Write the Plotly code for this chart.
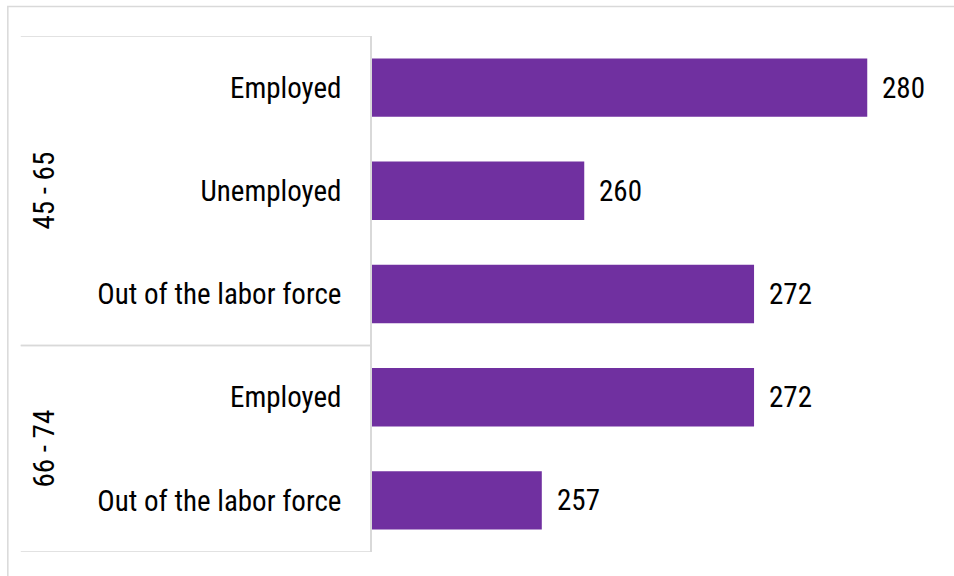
import plotly.graph_objects as go

groups = ["45 - 65", "45 - 65", "45 - 65", "66 - 74", "66 - 74"]
categories = ["Employed", "Unemployed", "Out of the labor force", "Employed", "Out of the labor force"]
values = [280, 260, 272, 272, 257]
x_range = [245, 285]

W, H = 954, 576
L, R, T, B = 371.7, 15.5, 36, 24
pw = W - L - R
ph = H - T - B

FONT = "Liberation Sans Narrow, Arial Narrow, Roboto Condensed, sans-serif"
GRID = "#d9d9d9"

pos = list(range(len(categories)))

fig = go.Figure()
fig.add_trace(go.Bar(
    y=pos, x=values, orientation="h",
    marker=dict(color="#7030A0", line=dict(width=0)),
    hoverinfo="x+y",
))

annotations = []
for p, v in zip(pos, values):
    annotations.append(dict(x=v, y=p, xref="x", yref="y", text=str(v), showarrow=False,
                            xanchor="left", xshift=13, font=dict(family=FONT, size=29, color="#000000")))

# group labels and divider lines
shapes = []
uniq = []
for g in groups:
    if g not in uniq:
        uniq.append(g)
lx0 = (20 - L) / pw
for g in uniq:
    idx = [i for i, gg in enumerate(groups) if gg == g]
    mid = (idx[0] + idx[-1]) / 2
    annotations.append(dict(x=(43 - L) / pw, y=mid, xref="paper", yref="y", text=g, textangle=-90,
                            showarrow=False, xanchor="center", yanchor="middle",
                            font=dict(family=FONT, size=29, color="#000000")))
    for yy in (idx[0] - 0.5, idx[-1] + 0.5):
        shapes.append(dict(type="line", xref="paper", yref="y", x0=lx0, x1=0, y0=yy, y1=yy,
                           line=dict(color=GRID, width=1.5)))

# outer chart frame
shapes.append(dict(type="rect", xref="paper", yref="paper",
                   x0=(7 - L) / pw, x1=1.2, y0=-0.2, y1=1 + (T - 6.5) / ph,
                   line=dict(color=GRID, width=1.5), fillcolor="rgba(0,0,0,0)", layer="below"))

fig.update_layout(
    width=W, height=H,
    margin=dict(l=L, r=R, t=T, b=B, pad=0),
    paper_bgcolor="white", plot_bgcolor="white",
    bargap=0.434,
    showlegend=False,
    font=dict(family=FONT, size=29, color="#000000"),
    xaxis=dict(range=x_range, visible=False, showgrid=False, zeroline=False),
    yaxis=dict(tickmode="array", tickvals=pos, ticktext=categories, range=[len(pos) - 0.5, -0.5],
               showline=True, linecolor=GRID, linewidth=1.5, showgrid=False, zeroline=False,
               ticks="outside", ticklen=23, tickcolor="rgba(0,0,0,0)",
               tickfont=dict(family=FONT, size=29, color="#000000")),
    annotations=annotations,
    shapes=shapes,
)

fig.write_html("out.html")
